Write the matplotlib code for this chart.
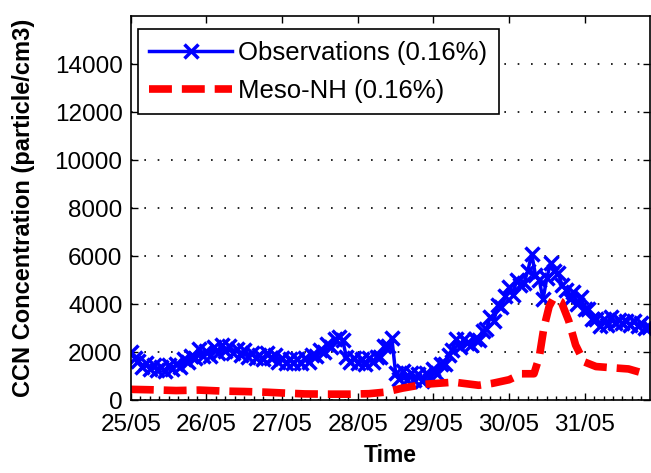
import numpy as np
import matplotlib.pyplot as plt
from matplotlib.ticker import MultipleLocator

plt.rcParams['font.family'] = ['Liberation Sans', 'DejaVu Sans']

# observations every 0.05 day starting 25/05 00:00
obs_step = 0.05
obs_ccn = [
    2000, 1750, 1650, 1400, 1550, 1300, 1450, 1250, 1400, 1200,
    1450, 1300, 1500, 1400, 1700, 1600, 1850, 1750, 2150, 1850,
    2050, 1850, 2200, 1950, 2300, 2050, 2250, 1950, 2150, 1900,
    2100, 1800, 1950, 1750, 1900, 1700, 1950, 1750, 1900, 1600,
    1750, 1550, 1700, 1550, 1700, 1550, 1750, 1600, 1900, 1850,
    2100, 2000, 2350, 2200, 2550, 2650, 2500, 1800, 1600, 1750,
    1550, 1700, 1500, 1750, 1600, 1800, 1800, 2250, 2250, 2600,
    1150, 900, 1200, 850, 1150, 850, 1100, 800, 1150, 950,
    1300, 1100, 1500, 1500, 1900, 2100, 2550, 2200, 2550, 2400,
    2300, 2550, 2500, 2900, 2950, 3450, 3300, 3950, 3900, 4350,
    4700, 4400, 5000, 4800, 4900, 5400, 6100, 5200, 5000, 4200,
    5100, 5700, 5400, 5300, 4800, 4600, 4200, 4500, 4000, 4300,
    3800, 3800, 3400, 3400, 3100, 3400, 3150, 3450, 3200, 3350,
    3200, 3300, 3150, 3300, 3100, 3200, 3000, 3050,
]
obs_days = np.arange(len(obs_ccn)) * obs_step

# Meso-NH model output
model_days = [0.0, 0.3, 0.6, 0.9, 1.2, 1.5, 1.8, 2.0, 2.3, 2.6, 2.9, 3.15,
              3.35, 3.48, 3.59, 3.88, 4.27, 4.6, 4.78, 5.0, 5.17, 5.33,
              5.4, 5.46, 5.53, 5.59, 5.69, 5.79, 5.88, 5.99, 6.15, 6.36,
              6.58, 6.8]
model_ccn = [450, 430, 400, 420, 380, 360, 330, 300, 260, 250, 250, 270,
             330, 420, 500, 660, 750, 620, 700, 850, 1100, 1100,
             1800, 3000, 3900, 4250, 4100, 3300, 2300, 1600, 1400, 1350,
             1300, 1100]

day_labels = ['25/05', '26/05', '27/05', '28/05', '29/05', '30/05', '31/05']

fig = plt.figure(figsize=(6.51, 4.73), dpi=100)
ax = fig.add_axes([0.201, 0.154, 0.797, 0.812])

ax.plot(obs_days, obs_ccn, color='blue', lw=2.5, marker='x', ms=10, mew=2.5,
        label='Observations (0.16%)')
ax.plot(model_days, model_ccn, color='red', lw=5.5, ls=(0, (3, 1.3)),
        label='Meso-NH (0.16%)')

ax.set_xlim(0, 6.86)
ax.set_ylim(0, 16000)
ax.set_xticks(range(len(day_labels)))
ax.set_xticklabels(day_labels)
ax.xaxis.set_minor_locator(MultipleLocator(0.125))
ax.set_yticks(range(0, 16000, 2000))
ax.tick_params(axis='both', which='both', direction='in', top=True, right=True,
               labelsize=17.5, length=5, width=1, pad=6)
ax.tick_params(axis='x', which='minor', length=3, top=False)
ax.tick_params(axis='x', which='major', pad=10)
ax.yaxis.grid(True, color='black', ls=(0, (1, 7)), lw=1.2)

for s in ax.spines.values():
    s.set_linewidth(1.2)

ax.set_xlabel('Time', fontsize=16.5, fontweight='bold', labelpad=6)
ax.set_ylabel('CCN Concentration (particle/cm3)', fontsize=17,
              fontweight='bold', labelpad=14)

leg = ax.legend(loc='upper left', bbox_to_anchor=(0.0135, 0.966),
                fontsize=18.5, handlelength=3.2, fancybox=False,
                edgecolor='black', framealpha=1, borderaxespad=0,
                handletextpad=0.25, borderpad=0.45, labelspacing=0.55)
leg.get_frame().set_linewidth(1.2)

fig.savefig('out.png', dpi=100)
